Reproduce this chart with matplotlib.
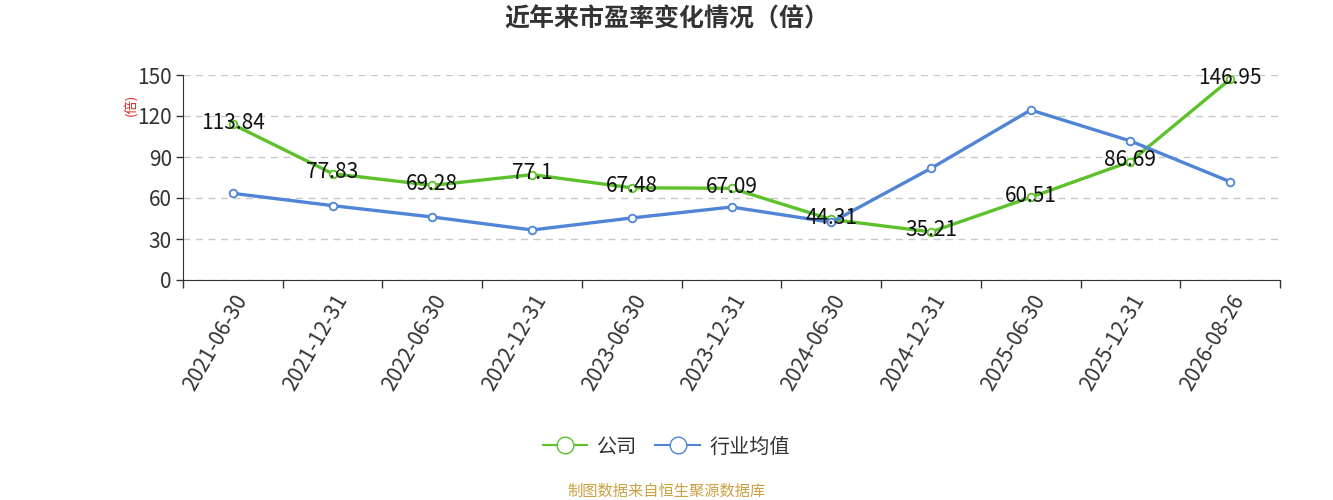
import matplotlib.pyplot as plt
from matplotlib.lines import Line2D

plt.rcParams['font.family'] = ['Noto Sans CJK SC', 'DejaVu Sans']

dates = ["2021-06-30", "2021-12-31", "2022-06-30", "2022-12-31", "2023-06-30",
         "2023-12-31", "2024-06-30", "2024-12-31", "2025-06-30", "2025-12-31",
         "2026-08-26"]
company = [113.84, 77.83, 69.28, 77.1, 67.48, 67.09, 44.31, 35.21, 60.51, 86.69, 146.95]
industry = [63.4, 54.4, 46.1, 36.6, 45.4, 53.4, 42.2, 81.7, 124.4, 101.7, 71.9]
y_ticks = [0, 30, 60, 90, 120, 150]

green = '#5cc12b'
blue = '#4f84d6'

fig = plt.figure(figsize=(13.33, 5.0), dpi=100)
ax = fig.add_axes([0.1373, 0.44, 0.8230, 0.41])

x = list(range(len(dates)))
ax.plot(x, company, color=green, lw=2.4, marker='o', ms=5.5, mfc='white',
        mec=green, mew=1.3, zorder=3)
ax.plot(x, industry, color=blue, lw=2.4, marker='o', ms=5.5, mfc='white',
        mec=blue, mew=1.3, zorder=3)

for xi, v in zip(x, company):
    ax.annotate(f"{v:g}", (xi, v), xytext=(0, 1), textcoords='offset points',
                ha='center', va='center', fontsize=15, color='#111111', zorder=4)

ax.set_xlim(-0.5, len(dates) - 0.5)
ax.set_ylim(0, 150)
ax.set_yticks(y_ticks)
ax.tick_params(axis='y', labelsize=15, length=5, width=1, color='#333333',
               labelcolor='#333333', pad=3)
ax.yaxis.grid(True, linestyle=(0, (5, 4)), color='#c8c8c8', lw=1)
ax.set_axisbelow(True)

# boundary ticks, labels at band centres
ax.set_xticks([i - 0.5 for i in range(len(dates) + 1)])
ax.set_xticklabels([])
ax.set_xticks(x, minor=True)
ax.set_xticklabels(dates, minor=True, rotation=60, ha='right', va='top',
                   rotation_mode='anchor', fontsize=15, color='#333333')
ax.tick_params(axis='x', which='major', length=6, width=1, color='#333333')
ax.tick_params(axis='x', which='minor', length=0, pad=8)

for s in ['top', 'right']:
    ax.spines[s].set_visible(False)
ax.spines['left'].set_color('#333333')
ax.spines['bottom'].set_color('#333333')

fig.text(0.5, 0.962, "近年来市盈率变化情况（倍）", ha='center', va='center',
         fontsize=18, fontweight='bold', color='#333333')
fig.text(0.098, 0.79, "(倍)", ha='center', va='center', rotation=90,
         fontsize=9.5, color='#e02020')

handles = [Line2D([], [], color=green, lw=1.5, marker='o', ms=12, mfc='white', mec=green),
           Line2D([], [], color=blue, lw=1.5, marker='o', ms=12, mfc='white', mec=blue)]
fig.legend(handles, ["公司", "行业均值"], loc='center', bbox_to_anchor=(0.5, 0.106),
           ncol=2, frameon=False, fontsize=14.5, handlelength=2.2, columnspacing=0.9,
           handletextpad=0.5, labelcolor='#333333')

fig.text(0.5, 0.018, "制图数据来自恒生聚源数据库", ha='center', va='center',
         fontsize=11, color='#c9a244')

fig.savefig('out.png', dpi=100)
